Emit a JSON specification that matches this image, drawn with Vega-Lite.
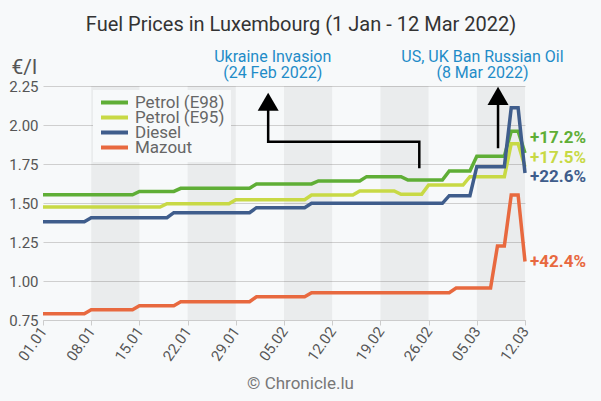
{
  "$schema": "https://vega.github.io/schema/vega-lite/v6.json",
  "width": 482,
  "height": 234,
  "autosize": {"type": "none"},
  "padding": {"left": 43, "top": 86, "right": 76, "bottom": 81},
  "background": "#f7f9fa",
  "config": {"font": "Roboto", "view": {"stroke": null}},
  "title": {"text": "Fuel Prices in Luxembourg (1 Jan - 12 Mar 2022)", "fontSize": 20, "font": "Roboto", "fontWeight": "normal", "color": "#333333", "anchor": "middle", "frame": "group", "dx": 17, "offset": 14},
  "datasets": {
    "prices": [
      {"series": "Petrol (E98)", "date": "2022-01-01", "value": 1.553},
      {"series": "Petrol (E98)", "date": "2022-01-14", "value": 1.553},
      {"series": "Petrol (E98)", "date": "2022-01-15", "value": 1.574},
      {"series": "Petrol (E98)", "date": "2022-01-20", "value": 1.574},
      {"series": "Petrol (E98)", "date": "2022-01-21", "value": 1.594},
      {"series": "Petrol (E98)", "date": "2022-01-31", "value": 1.594},
      {"series": "Petrol (E98)", "date": "2022-02-01", "value": 1.622},
      {"series": "Petrol (E98)", "date": "2022-02-09", "value": 1.622},
      {"series": "Petrol (E98)", "date": "2022-02-10", "value": 1.641},
      {"series": "Petrol (E98)", "date": "2022-02-16", "value": 1.641},
      {"series": "Petrol (E98)", "date": "2022-02-17", "value": 1.669},
      {"series": "Petrol (E98)", "date": "2022-02-22", "value": 1.669},
      {"series": "Petrol (E98)", "date": "2022-02-23", "value": 1.647},
      {"series": "Petrol (E98)", "date": "2022-02-28", "value": 1.647},
      {"series": "Petrol (E98)", "date": "2022-03-01", "value": 1.705},
      {"series": "Petrol (E98)", "date": "2022-03-04", "value": 1.705},
      {"series": "Petrol (E98)", "date": "2022-03-05", "value": 1.8},
      {"series": "Petrol (E98)", "date": "2022-03-09", "value": 1.8},
      {"series": "Petrol (E98)", "date": "2022-03-10", "value": 1.96},
      {"series": "Petrol (E98)", "date": "2022-03-11", "value": 1.96},
      {"series": "Petrol (E98)", "date": "2022-03-12", "value": 1.82},
      {"series": "Petrol (E95)", "date": "2022-01-01", "value": 1.474},
      {"series": "Petrol (E95)", "date": "2022-01-18", "value": 1.474},
      {"series": "Petrol (E95)", "date": "2022-01-19", "value": 1.495},
      {"series": "Petrol (E95)", "date": "2022-01-28", "value": 1.495},
      {"series": "Petrol (E95)", "date": "2022-01-29", "value": 1.521},
      {"series": "Petrol (E95)", "date": "2022-02-08", "value": 1.521},
      {"series": "Petrol (E95)", "date": "2022-02-09", "value": 1.551},
      {"series": "Petrol (E95)", "date": "2022-02-15", "value": 1.551},
      {"series": "Petrol (E95)", "date": "2022-02-16", "value": 1.577},
      {"series": "Petrol (E95)", "date": "2022-02-21", "value": 1.577},
      {"series": "Petrol (E95)", "date": "2022-02-22", "value": 1.556},
      {"series": "Petrol (E95)", "date": "2022-02-25", "value": 1.556},
      {"series": "Petrol (E95)", "date": "2022-02-26", "value": 1.615},
      {"series": "Petrol (E95)", "date": "2022-03-03", "value": 1.615},
      {"series": "Petrol (E95)", "date": "2022-03-04", "value": 1.669},
      {"series": "Petrol (E95)", "date": "2022-03-09", "value": 1.669},
      {"series": "Petrol (E95)", "date": "2022-03-10", "value": 1.88},
      {"series": "Petrol (E95)", "date": "2022-03-11", "value": 1.88},
      {"series": "Petrol (E95)", "date": "2022-03-12", "value": 1.732},
      {"series": "Diesel", "date": "2022-01-01", "value": 1.38},
      {"series": "Diesel", "date": "2022-01-07", "value": 1.38},
      {"series": "Diesel", "date": "2022-01-08", "value": 1.406},
      {"series": "Diesel", "date": "2022-01-19", "value": 1.406},
      {"series": "Diesel", "date": "2022-01-20", "value": 1.438},
      {"series": "Diesel", "date": "2022-01-31", "value": 1.438},
      {"series": "Diesel", "date": "2022-02-01", "value": 1.47},
      {"series": "Diesel", "date": "2022-02-08", "value": 1.47},
      {"series": "Diesel", "date": "2022-02-09", "value": 1.498},
      {"series": "Diesel", "date": "2022-02-28", "value": 1.498},
      {"series": "Diesel", "date": "2022-03-01", "value": 1.547},
      {"series": "Diesel", "date": "2022-03-04", "value": 1.547},
      {"series": "Diesel", "date": "2022-03-05", "value": 1.733},
      {"series": "Diesel", "date": "2022-03-09", "value": 1.733},
      {"series": "Diesel", "date": "2022-03-10", "value": 2.11},
      {"series": "Diesel", "date": "2022-03-11", "value": 2.11},
      {"series": "Diesel", "date": "2022-03-12", "value": 1.692},
      {"series": "Mazout", "date": "2022-01-01", "value": 0.79},
      {"series": "Mazout", "date": "2022-01-07", "value": 0.79},
      {"series": "Mazout", "date": "2022-01-08", "value": 0.816},
      {"series": "Mazout", "date": "2022-01-14", "value": 0.816},
      {"series": "Mazout", "date": "2022-01-15", "value": 0.842},
      {"series": "Mazout", "date": "2022-01-20", "value": 0.842},
      {"series": "Mazout", "date": "2022-01-21", "value": 0.867},
      {"series": "Mazout", "date": "2022-01-31", "value": 0.867},
      {"series": "Mazout", "date": "2022-02-01", "value": 0.899},
      {"series": "Mazout", "date": "2022-02-08", "value": 0.899},
      {"series": "Mazout", "date": "2022-02-09", "value": 0.925},
      {"series": "Mazout", "date": "2022-03-01", "value": 0.925},
      {"series": "Mazout", "date": "2022-03-02", "value": 0.955},
      {"series": "Mazout", "date": "2022-03-07", "value": 0.955},
      {"series": "Mazout", "date": "2022-03-08", "value": 1.224},
      {"series": "Mazout", "date": "2022-03-09", "value": 1.224},
      {"series": "Mazout", "date": "2022-03-10", "value": 1.551},
      {"series": "Mazout", "date": "2022-03-11", "value": 1.551},
      {"series": "Mazout", "date": "2022-03-12", "value": 1.125}
    ],
    "bands": [
      {"date": "2022-01-08", "end": "2022-01-15"},
      {"date": "2022-01-22", "end": "2022-01-29"},
      {"date": "2022-02-05", "end": "2022-02-12"},
      {"date": "2022-02-19", "end": "2022-02-26"},
      {"date": "2022-03-05", "end": "2022-03-12"}
    ],
    "arrows": [
      {"id": "ukr", "ord": 1, "date": "2022-02-24T15:36:00Z", "value": 1.722},
      {"id": "ukr", "ord": 2, "date": "2022-02-24T15:36:00Z", "value": 1.893},
      {"id": "ukr", "ord": 3, "date": "2022-02-02T16:48:00Z", "value": 1.893},
      {"id": "ukr", "ord": 4, "date": "2022-02-02T16:48:00Z", "value": 2.15},
      {"id": "ban", "ord": 1, "date": "2022-03-08T02:00:00Z", "value": 1.851},
      {"id": "ban", "ord": 2, "date": "2022-03-08T02:00:00Z", "value": 2.19}
    ],
    "heads": [
      {"date": "2022-02-02T16:48:00Z", "value": 2.149},
      {"date": "2022-03-08T02:00:00Z", "value": 2.187}
    ],
    "notes": [
      {"date": "2022-02-03T08:38:00Z", "value": 2.438, "text": "Ukraine Invasion"},
      {"date": "2022-02-03T08:38:00Z", "value": 2.331, "text": "(24 Feb 2022)"},
      {"date": "2022-03-05T19:41:00Z", "value": 2.438, "text": "US, UK Ban Russian Oil"},
      {"date": "2022-03-05T19:41:00Z", "value": 2.331, "text": "(8 Mar 2022)"}
    ],
    "ends": [
      {"series": "Petrol (E98)", "date": "2022-03-12", "value": 1.915, "text": "+17.2%"},
      {"series": "Petrol (E95)", "date": "2022-03-12", "value": 1.787, "text": "+17.5%"},
      {"series": "Diesel", "date": "2022-03-12", "value": 1.669, "text": "+22.6%"},
      {"series": "Mazout", "date": "2022-03-12", "value": 1.124, "text": "+42.4%"}
    ]
  },
  "encoding": {
    "x": {"field": "date", "type": "temporal",
      "scale": {"type": "utc", "domain": [{"year": 2022, "month": 1, "date": 1, "utc": true}, {"year": 2022, "month": 3, "date": 12, "utc": true}]},
      "axis": {"values": [{"year": 2022, "month": 1, "date": 1, "utc": true}, {"year": 2022, "month": 1, "date": 8, "utc": true}, {"year": 2022, "month": 1, "date": 15, "utc": true}, {"year": 2022, "month": 1, "date": 22, "utc": true}, {"year": 2022, "month": 1, "date": 29, "utc": true}, {"year": 2022, "month": 2, "date": 5, "utc": true}, {"year": 2022, "month": 2, "date": 12, "utc": true}, {"year": 2022, "month": 2, "date": 19, "utc": true}, {"year": 2022, "month": 2, "date": 26, "utc": true}, {"year": 2022, "month": 3, "date": 5, "utc": true}, {"year": 2022, "month": 3, "date": 12, "utc": true}],
        "format": "%d.%m", "labelAngle": -55, "labelAlign": "right", "labelBaseline": "middle", "labelFontSize": 15, "labelColor": "#555555", "labelPadding": 3,
        "tickSize": 5, "tickColor": "#cccccc", "domainColor": "#cccccc", "grid": false,
        "title": "© Chronicle.lu", "titleX": 257, "titleY": 63, "titleFontSize": 17, "titleFontWeight": "normal", "titleColor": "#777777", "titleBaseline": "middle", "titleAlign": "center"}}
  },
  "layer": [
    {
      "data": {"name": "bands"},
      "mark": {"type": "rect", "fill": "#000000", "opacity": 0.05},
      "encoding": {
        "x2": {"field": "end"}
      }
    },
    {
      "encoding": {
        "y": {"field": "value", "type": "quantitative",
          "scale": {"domain": [0.75, 2.25], "nice": false, "zero": false},
          "axis": {"values": [0.75, 1, 1.25, 1.5, 1.75, 2, 2.25], "format": ".2f", "title": "€/l", "titleAngle": 0, "titleAlign": "left", "titleBaseline": "alphabetic", "titleX": -32, "titleY": -13, "titleFontSize": 21, "titleFontWeight": "normal", "titleColor": "#555555",
            "labelFontSize": 15, "labelColor": "#555555", "labelPadding": 5, "labelOverlap": false, "domain": false, "ticks": false, "gridColor": "#cfcfcf", "gridWidth": 1}}
      },
      "layer": [
        {
          "data": {"name": "prices"},
          "mark": {"type": "line", "strokeWidth": 3.5},
          "encoding": {
            "color": {"field": "series", "type": "nominal",
              "scale": {"domain": ["Petrol (E98)", "Petrol (E95)", "Diesel", "Mazout"], "range": ["#5fae36", "#c8d945", "#3f5d8c", "#e8693f"]},
              "legend": {"orient": "none", "legendX": 50, "legendY": 4, "title": null, "symbolType": "stroke", "symbolSize": 729, "symbolStrokeWidth": 4, "labelFontSize": 17, "labelColor": "#666666", "labelOffset": 5, "fillColor": "#f7f9fa", "padding": 6, "rowPadding": -3.5, "clipHeight": 13}}
          }
        },
        {
          "data": {"name": "arrows"},
          "mark": {"type": "line", "color": "#000000", "strokeWidth": 2.5},
          "encoding": {
            "detail": {"field": "id"},
            "order": {"field": "ord"}
          }
        },
        {
          "data": {"name": "heads"},
          "mark": {"type": "point", "shape": "triangle-up", "filled": true, "size": 441, "color": "#000000", "opacity": 1}
        },
        {
          "data": {"name": "notes"},
          "mark": {"type": "text", "fontSize": 16, "color": "#1f8cc8", "align": "center", "baseline": "middle"},
          "encoding": {
            "text": {"field": "text"}
          }
        },
        {
          "data": {"name": "ends"},
          "mark": {"type": "text", "fontSize": 17, "fontWeight": "bold", "align": "left", "baseline": "middle", "dx": 5},
          "encoding": {
            "text": {"field": "text"},
            "color": {"field": "series", "type": "nominal", "legend": null}
          }
        }
      ]
    }
  ]
}
